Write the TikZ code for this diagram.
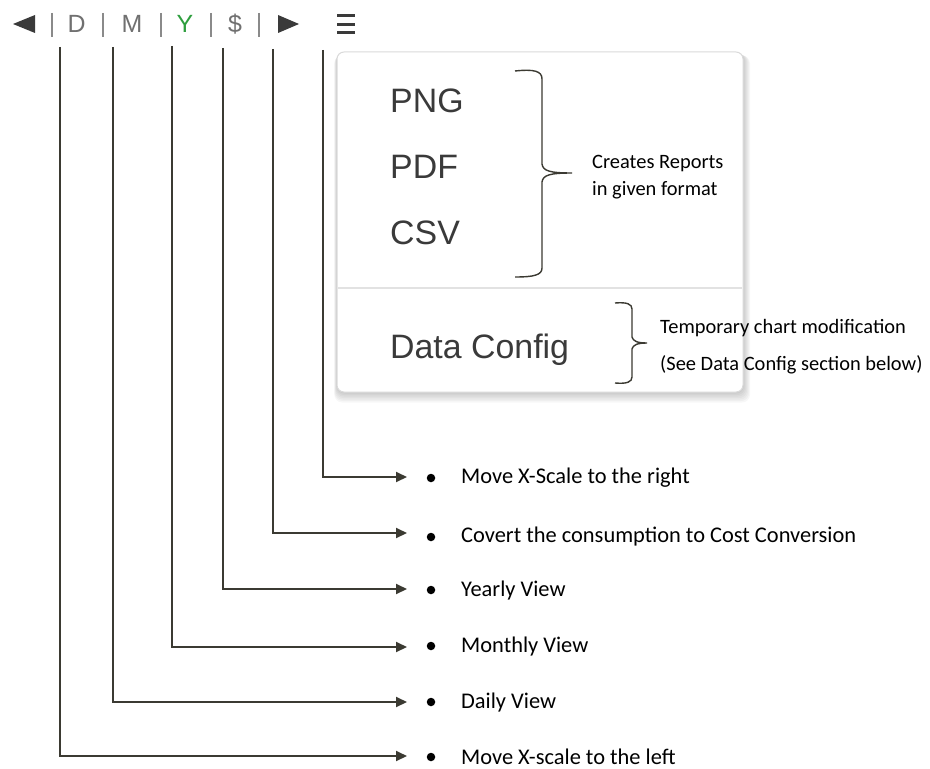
\documentclass[tikz,border=0pt]{standalone}
\usepackage{fontspec}
\setmainfont{Liberation Sans}
\newfontfamily\calibri{Carlito}
\usetikzlibrary{arrows.meta}
\definecolor{menutext}{HTML}{3A3A3A}
\definecolor{barg}{HTML}{707070}
\definecolor{sepg}{HTML}{8A8A8A}
\definecolor{ygreen}{HTML}{2E9E3E}
\definecolor{connc}{HTML}{3B3A32}
\definecolor{boxline}{HTML}{DADADA}
\definecolor{divline}{HTML}{E2E2E2}
\tikzset{
 conn/.style={draw=connc, line width=2bp, -{Triangle[length=11bp,width=10bp]}},
 brace/.style={draw=connc, line width=1.4bp},
 item/.style={anchor=base west, inner sep=0, font=\calibri\fontsize{22.5}{26}\selectfont, text=black},
 note/.style={anchor=base west, inner sep=0, font=\calibri\fontsize{20.5}{24}\selectfont, text=black},
 menuitem/.style={anchor=base west, inner sep=0, font=\fontsize{34}{40}\selectfont, text=menutext},
 barletter/.style={anchor=base, inner sep=0, font=\fontsize{25}{30}\selectfont, text=barg},
 bullet/.style={circle, fill=black, inner sep=0, minimum size=8.5bp},
 sep/.style={draw=sepg, line width=1.2bp},
 ham/.style={draw=menutext, line width=3bp},
}
\begin{document}
\begin{tikzpicture}[x=1bp,y=-1bp]
\useasboundingbox (0,0) rectangle (930,769);
% top bar
\fill[menutext] (35,15) -- (35,33) -- (13,24) -- cycle;
\fill[menutext] (278,15) -- (278,33) -- (299,24) -- cycle;
\foreach \x in {52,103,161,211,259} \draw[sep] (\x,13) -- (\x,37);
\node[barletter] (D) at (76.5,33) {D};
\node[barletter] (M) at (132,33) {M};
\node[barletter, text=ygreen] (Y) at (185,33) {Y};
\node[barletter] (S) at (235,33) {\$};
\draw[ham] (337,16) -- (355,16);
\draw[ham] (337,24.5) -- (355,24.5);
\draw[ham] (337,33) -- (355,33);
% menu box with shadow
\foreach \i in {1,...,7}
  \fill[black, opacity=0.03, rounded corners=8bp] (337-\i*0.4,52+\i*0.5) rectangle (743+\i*1.0,392+\i*1.5);
\draw[draw=boxline, fill=white, line width=1bp, rounded corners=7bp] (337,52) rectangle (743,392);
\draw[draw=divline, line width=1.5bp] (338,288) -- (742,288);
\node[menuitem] (png) at (390,112) {PNG};
\node[menuitem] (pdf) at (390,178) {PDF};
\node[menuitem] (csv) at (390,244) {CSV};
\node[menuitem] (dc) at (390,358) {Data Config};
% braces
\draw[brace] (515,71) .. controls (534,69) and (542,71) .. (542,79) -- (542,164)
  .. controls (543,171) and (550,173) .. (572,173)
  .. controls (550,173) and (543,175) .. (542,182) -- (542,268)
  .. controls (542,275) and (534,277) .. (515,277);
\draw[brace] (615,303) .. controls (627,302) and (632,304) .. (632,309) -- (632,337)
  .. controls (633,341) and (637,343) .. (647,343)
  .. controls (637,343) and (633,345) .. (632,349) -- (632,377)
  .. controls (632,382) and (627,384) .. (615,383);
\node[note] (n1) at (592,168) {Creates Reports};
\node[note] (n2) at (592,195) {in given format};
\node[note] (n3) at (660,333) {Temporary chart modification};
\node[note] (n4) at (660,370) {(See Data Config section below)};
% connectors
\coordinate (s1) at (60,47);
\coordinate (s2) at (113,47);
\coordinate (s3) at (172,46);
\coordinate (s4) at (223,48);
\coordinate (s5) at (273,49);
\coordinate (s6) at (323,50);
\coordinate (a1) at (407,756);
\coordinate (a2) at (407,702);
\coordinate (a3) at (407,647);
\coordinate (a4) at (407,589);
\coordinate (a5) at (407,533);
\coordinate (a6) at (407,477);
\foreach \i in {1,...,6} \draw[conn] (s\i) |- (a\i);
\node[bullet] (b1) at (431,757) {};
\node[bullet] (b2) at (431,702) {};
\node[bullet] (b3) at (431,646) {};
\node[bullet] (b4) at (431,590) {};
\node[bullet] (b5) at (431,537) {};
\node[bullet] (b6) at (431,478) {};
\node[item] (t1) at (461,764) {Move X-scale to the left};
\node[item] (t2) at (461,708) {Daily View};
\node[item] (t3) at (461,652) {Monthly View};
\node[item] (t4) at (461,596) {Yearly View};
\node[item] (t5) at (461,542) {Covert the consumption to Cost Conversion};
\node[item] (t6) at (461,483) {Move X-Scale to the right};
\end{tikzpicture}
\end{document}
